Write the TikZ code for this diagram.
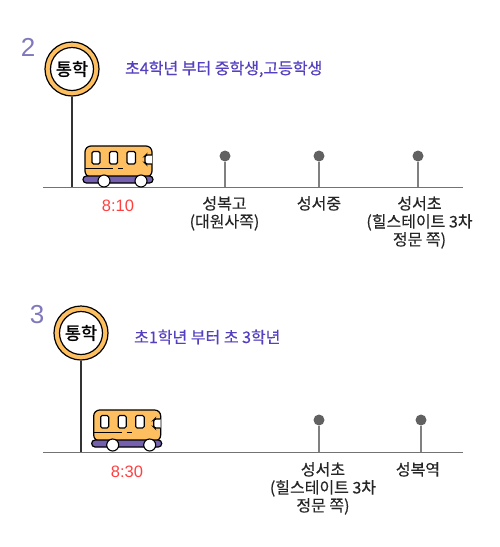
\documentclass[tikz,border=0pt]{standalone}
\usepackage{fontspec}
\setmainfont[FakeBold=0.4]{Noto Sans CJK KR}
\newfontfamily\signfont[FakeBold=1.2]{Noto Sans CJK KR}
\newfontfamily\latinfont{Liberation Sans}
\tikzset{
  x=1pt,y=-1pt,
  lab/.style={font=\fontsize{16}{18}\selectfont,text=black!85,align=center,inner sep=0pt,anchor=north},
  timelab/.style={font=\latinfont\fontsize{16.5}{18}\selectfont,text=red!75!white,inner sep=0pt},
  head/.style={font=\fontsize{16}{18}\selectfont,text=headblue,inner sep=0pt,anchor=west},
  num/.style={font=\latinfont\fontsize{26}{28}\selectfont,text=numpurple,inner sep=0pt},
  groundline/.style={draw=black!55,line width=1.2pt},
  stem/.style={draw=black!50,line width=1.1pt},
  stopdot/.style={circle,fill=black!62,minimum size=11pt,inner sep=0pt},
  signouter/.style={circle,draw=black,line width=1.2pt,fill=busor,minimum size=54pt,inner sep=0pt},
  signinner/.style={circle,draw=black,line width=1.2pt,fill=white,minimum size=43pt,inner sep=0pt,font=\signfont\fontsize{17.5}{19}\selectfont},
  win/.style={draw=black,line width=1.1pt,fill=white,rounded corners=1.5pt},
  wheel/.style={draw=black,line width=1.1pt,fill=white}
}
\definecolor{busor}{HTML}{FDBF60}
\definecolor{buspu}{HTML}{7560B0}
\definecolor{headblue}{HTML}{5540C0}
\definecolor{numpurple}{HTML}{8078BC}
\newcommand{\busart}[2]{%
\begin{scope}[shift={(#1,#2)}]
  \draw[draw=black,line width=1.2pt,fill=busor,rounded corners=6pt] (85,177) -- (85,146) -- (152,146) -- (152,177) -- cycle;
  \draw[win] (92,151.5) rectangle (100,164);
  \draw[win] (109.5,151.5) rectangle (117.5,164);
  \draw[win] (127,151.5) rectangle (135.5,164);
  \draw[win] (152,155) -- (146,155) -- (145,156) -- (145,163) -- (146,164) -- (152,164);
  \draw[black,line width=1pt] (85,168) -- (113,168) (118,168) -- (123,168);
  \draw[draw=black,line width=1.2pt,fill=buspu,rounded corners=3.4pt] (83,176) rectangle (153,183);
  \draw[wheel] (104,181) circle (6);
  \draw[wheel] (141,181) circle (6);
\end{scope}}
\begin{document}
\begin{tikzpicture}
\useasboundingbox (0,0) rectangle (500,547);
% section 2
\node[num] (n2) at (28,47) {2};
\coordinate (g2a) at (43,187.2); \coordinate (g2b) at (463,187.2);
\draw[groundline] (g2a) -- (g2b);
\coordinate (p2) at (72,187);
\node[signouter] (s2o) at (72,69) {};
\node[signinner] (s2) at (72,69) {통학};
\draw[black!80,line width=1.2pt] (s2o.south) -- (p2);
\busart{0}{0}
\node[head] (h2) at (125,69) {초4학년 부터 중학생,고등학생};
\node[timelab] (t2) at (118,206) {8:10};
\node[stopdot] (a1) at (225,156) {};
\node[stopdot] (a2) at (319,156) {};
\node[stopdot] (a3) at (418,156) {};
\coordinate (a1g) at (225,187); \coordinate (a2g) at (319,187); \coordinate (a3g) at (418,187);
\draw[stem] (a1) -- (a1g); \draw[stem] (a2) -- (a2g); \draw[stem] (a3) -- (a3g);
\node[lab] (l1) at (224.5,196) {성복고\\(대원사쪽)};
\node[lab] (l2) at (319,196) {성서중};
\node[lab] (l3) at (419.5,196) {성서초\\(힐스테이트 3차\\정문 쪽)};
% section 3
\node[num] (n3) at (37,315) {3};
\coordinate (g3a) at (43,452.5); \coordinate (g3b) at (463,452.5);
\draw[groundline] (g3a) -- (g3b);
\coordinate (p3) at (81,452);
\node[signouter] (s3o) at (81,333) {};
\node[signinner] (s3) at (81,333) {통학};
\draw[black!80,line width=1.2pt] (s3o.south) -- (p3);
\busart{8.7}{264}
\node[head] (h3) at (134,337) {초1학년 부터 초 3학년};
\node[timelab] (t3) at (127,472) {8:30};
\node[stopdot] (b1) at (319,420) {};
\node[stopdot] (b2) at (421,420) {};
\coordinate (b1g) at (319,452); \coordinate (b2g) at (421,452);
\draw[stem] (b1) -- (b1g); \draw[stem] (b2) -- (b2g);
\node[lab] (m1) at (323,462) {성서초\\(힐스테이트 3차\\정문 쪽)};
\node[lab] (m2) at (418,462) {성복역};
\end{tikzpicture}
\end{document}
